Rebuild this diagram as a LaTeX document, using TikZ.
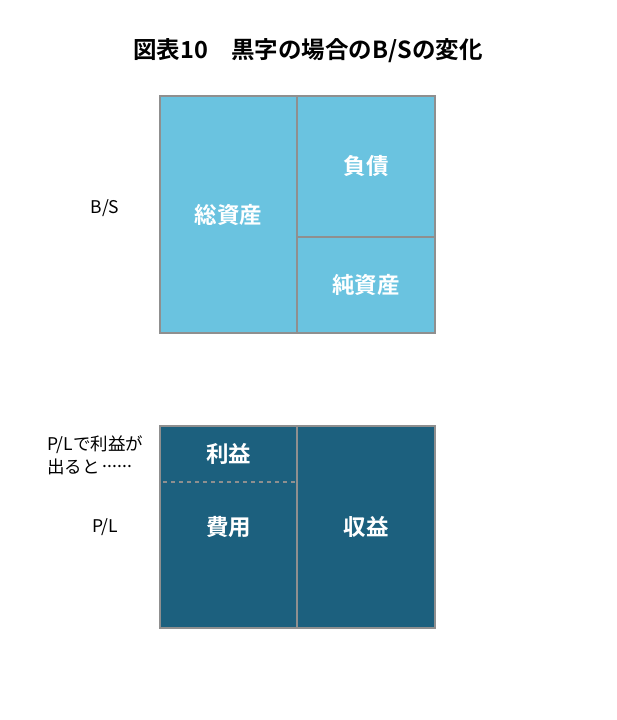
\documentclass[tikz,border=0pt]{standalone}
\usepackage{fontspec}
\setmainfont{Noto Sans CJK JP}[BoldFont={Noto Sans CJK JP Bold}]
\usetikzlibrary{positioning}
\definecolor{bslight}{RGB}{106,195,224}
\definecolor{pldark}{RGB}{28,96,126}
\definecolor{waku}{RGB}{143,143,143}
\newcommand{\tenten}{\hspace{0.15em}\raisebox{0.3em}{\makebox[1.7em][s]{.\hfil.\hfil.\hfil.\hfil.\hfil.}}}
\tikzset{
  boxtext/.style={text=white,font=\bfseries\fontsize{22.5}{26}\selectfont},
  bsbox/.style={draw=waku,line width=2pt,fill=bslight,boxtext,inner sep=0pt,outer sep=0pt,anchor=north west},
  plbox/.style={draw=waku,line width=2pt,fill=pldark,boxtext,inner sep=0pt,outer sep=0pt,anchor=north west},
  sidelabel/.style={font=\fontsize{17.5}{23}\selectfont,inner sep=0pt}
}

\begin{document}
\begin{tikzpicture}[x=1pt,y=-1pt]
    \useasboundingbox (0,0) rectangle (616,720);
    % title
    \node[font=\bfseries\fontsize{23.5}{28}\selectfont] (title) at (308,51) {図表10\quad 黒字の場合のB/Sの変化};
    % B/S
    \node[bsbox,minimum width=137pt,minimum height=237pt] (soshisan) at (160,96) {総資産};
    \node[bsbox,minimum width=138pt,minimum height=141pt] (fusai) at (soshisan.north east) {負債};
    \node[bsbox,minimum width=138pt,minimum height=96pt] (junshisan) at (fusai.south west) {純資産};
    \node[sidelabel] (bs) at (105,208) {B/S};
    % P/L
    \node[plbox,minimum width=137pt,minimum height=202pt] (hidari) at (160,426) {};
    \node[plbox,minimum width=138pt,minimum height=202pt] (shueki) at (hidari.north east) {収益};
    \node[plbox,draw=none,fill=none,minimum width=137pt,minimum height=56pt] (rieki) at (hidari.north west) {利益};
    \node[boxtext] (hiyo) at (228.5,527) {費用};
    \draw[waku,line width=2pt,dash pattern=on 4pt off 4pt] ([xshift=3pt]rieki.south west) -- (rieki.south east);
    \node[sidelabel] (pl) at (105,527) {P/L};
    \node[sidelabel,align=left,anchor=west] (nota) at (47,455) {P/Lで利益が\\出ると\tenten};
\end{tikzpicture}
\end{document}
